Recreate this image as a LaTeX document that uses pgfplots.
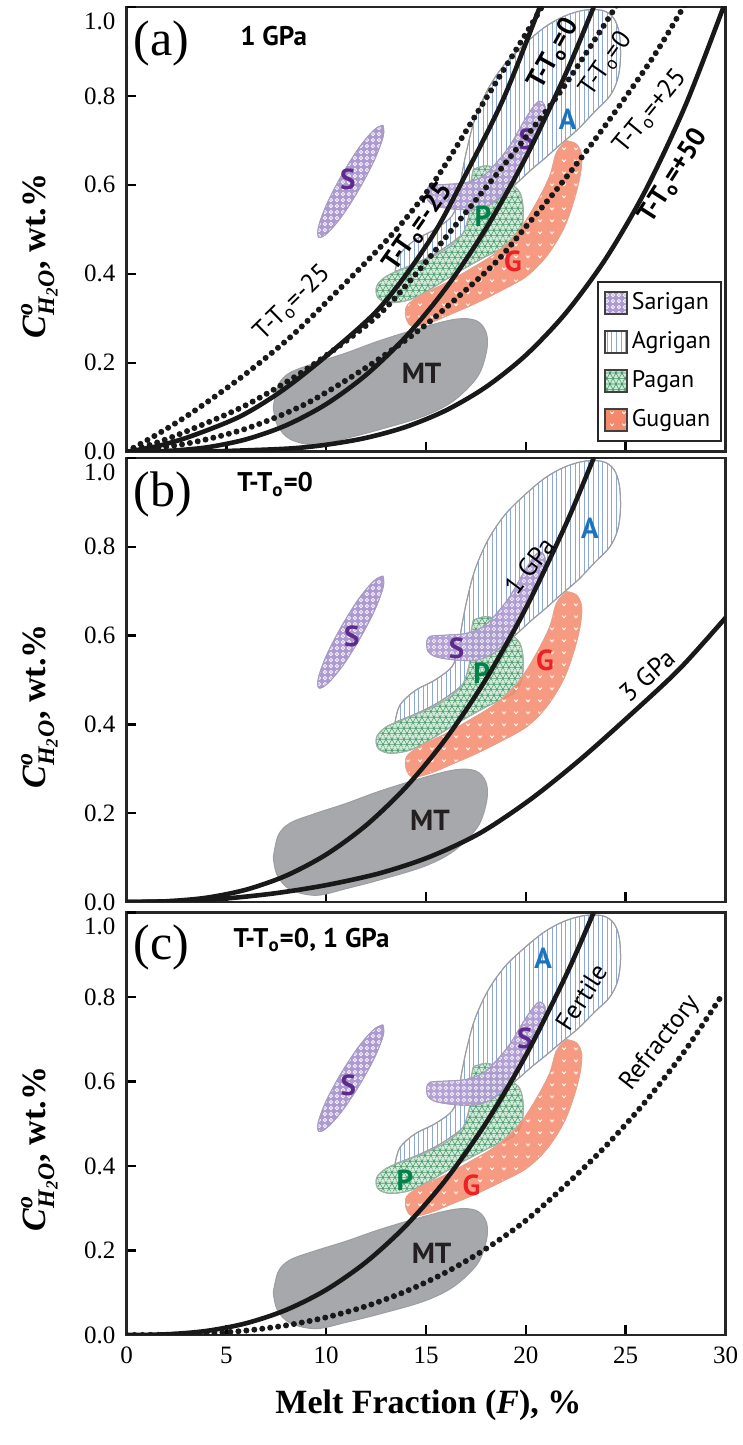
\documentclass[border=0pt]{standalone}
\usepackage{amsmath}
\usepackage{fontspec}
\setmainfont{Liberation Serif}
\newfontfamily\sansf{PT Sans}
\usepackage{pgfplots}
\pgfplotsset{compat=1.18}
\usepackage{pgfplotstable}
\usetikzlibrary{patterns,patterns.meta}

\definecolor{sarfill}{HTML}{AE9AD2}
\definecolor{sardraw}{HTML}{A79CC0}
\definecolor{agrline}{HTML}{8EA7D9}
\definecolor{agrdraw}{HTML}{9A9EA4}
\definecolor{pagfill}{HTML}{CFE9D7}
\definecolor{pagline}{HTML}{3E9463}
\definecolor{pagdraw}{HTML}{9DB3A5}
\definecolor{gugfill}{HTML}{F4896B}
\definecolor{gugdraw}{HTML}{E8A08A}
\definecolor{mtfill}{HTML}{A6A8AB}
\definecolor{mtdraw}{HTML}{9C9EA1}
\definecolor{Scol}{HTML}{5E2A8C}
\definecolor{Acol}{HTML}{1B75BC}
\definecolor{Pcol}{HTML}{00834A}
\definecolor{Gcol}{HTML}{EC2227}
\definecolor{MTcol}{HTML}{231F20}

\pgfdeclarepattern{name=circs, type=uncolored,
  bottom left={\pgfpoint{-1.6pt}{-1.6pt}}, top right={\pgfpoint{1.6pt}{1.6pt}},
  tile size={\pgfpoint{3.2pt}{3.2pt}},
  code={\pgfsetlinewidth{0.4pt}\pgfpathcircle{\pgfpointorigin}{0.9pt}\pgfusepath{stroke}}}
\pgfdeclarepattern{name=vees, type=uncolored,
  bottom left={\pgfpoint{-3pt}{-3pt}}, top right={\pgfpoint{3pt}{3pt}},
  tile size={\pgfpoint{6pt}{6pt}},
  code={\pgfsetlinewidth{0.45pt}\pgfpathmoveto{\pgfpoint{-0.9pt}{0.7pt}}\pgfpathlineto{\pgfpoint{0pt}{-0.4pt}}\pgfpathlineto{\pgfpoint{0.9pt}{0.7pt}}\pgfusepath{stroke}}}
\pgfdeclarepattern{name=tri, type=uncolored,
  bottom left={\pgfpoint{0pt}{0pt}}, top right={\pgfpoint{3.2pt}{5.543pt}},
  tile size={\pgfpoint{3.2pt}{5.543pt}},
  code={\pgfsetlinewidth{0.3pt}
    \pgfpathmoveto{\pgfpoint{0pt}{1.386pt}}\pgfpathlineto{\pgfpoint{3.2pt}{1.386pt}}
    \pgfpathmoveto{\pgfpoint{0pt}{4.157pt}}\pgfpathlineto{\pgfpoint{3.2pt}{4.157pt}}
    \pgfpathmoveto{\pgfpoint{0pt}{1.386pt}}\pgfpathlineto{\pgfpoint{2.4pt}{5.543pt}}
    \pgfpathmoveto{\pgfpoint{2.4pt}{0pt}}\pgfpathlineto{\pgfpoint{3.2pt}{1.386pt}}
    \pgfpathmoveto{\pgfpoint{3.2pt}{1.386pt}}\pgfpathlineto{\pgfpoint{0.8pt}{5.543pt}}
    \pgfpathmoveto{\pgfpoint{0.8pt}{0pt}}\pgfpathlineto{\pgfpoint{0pt}{1.386pt}}
    \pgfusepath{stroke}}}

% ---------- shapes (data regions) ----------
\pgfplotstableread{
x y
13.45 0.405
13.70 0.444
14.45 0.476
15.45 0.500
16.30 0.530
16.60 0.568
16.80 0.624
17.05 0.680
17.45 0.748
18.10 0.815
18.95 0.872
19.95 0.917
20.96 0.955
21.96 0.980
22.96 0.993
23.86 0.992
24.40 0.975
24.68 0.940
24.74 0.885
24.60 0.838
24.21 0.800
23.46 0.765
22.61 0.725
21.71 0.690
20.96 0.660
20.30 0.635
19.45 0.600
18.45 0.560
17.45 0.515
16.45 0.475
15.45 0.445
14.45 0.423
13.45 0.405
}\tabA
\pgfplotstableread{
x y
12.84 0.734
12.865 0.711
12.455 0.660
11.719 0.596
10.855 0.534
10.094 0.493
9.64 0.482
9.615 0.505
10.025 0.556
10.761 0.620
11.625 0.682
12.387 0.723
12.84 0.734
}\tabSa
\pgfplotstableread{
x y
15.03 0.583
15.20 0.598
16.03 0.601
17.03 0.605
17.87 0.620
18.54 0.650
19.20 0.688
19.87 0.740
20.37 0.775
20.70 0.788
20.96 0.775
20.87 0.735
20.37 0.688
19.70 0.635
19.04 0.590
18.37 0.560
17.54 0.545
16.53 0.545
15.53 0.552
15.11 0.564
15.03 0.583
}\tabSb
\pgfplotstableread{
x y
17.37 0.635
18.04 0.643
18.70 0.631
19.20 0.605
19.70 0.583
19.87 0.545
19.79 0.500
19.37 0.470
18.04 0.440
16.53 0.402
15.20 0.365
14.20 0.342
13.20 0.335
12.60 0.346
12.53 0.372
13.03 0.395
14.03 0.414
15.20 0.436
16.20 0.462
16.87 0.493
17.20 0.545
17.20 0.590
17.37 0.635
}\tabP
\pgfplotstableread{
x y
22.04 0.699
22.54 0.691
22.79 0.665
22.71 0.620
22.37 0.560
21.87 0.500
21.04 0.440
20.04 0.395
18.87 0.365
17.54 0.335
16.37 0.312
15.20 0.290
14.36 0.282
14.03 0.297
14.03 0.327
14.70 0.350
16.03 0.380
17.20 0.410
18.54 0.448
19.70 0.500
20.54 0.560
21.20 0.620
21.54 0.673
22.04 0.699
}\tabG
\pgfplotstableread{
x y
7.35 0.100
7.60 0.150
8.20 0.178
9.50 0.200
11.00 0.222
12.70 0.250
14.86 0.280
16.50 0.298
17.50 0.295
18.00 0.270
18.05 0.230
17.60 0.170
16.40 0.115
14.90 0.080
12.70 0.050
11.00 0.030
9.50 0.015
8.20 0.028
7.55 0.060
7.35 0.100
}\tabMT

% ---------- model curves ----------
\pgfplotstableread{
x y
0 0
1.5 0.012
3.18 0.034
5.68 0.079
7.85 0.139
10.19 0.222
12.44 0.312
14 0.398
15.53 0.500
16.87 0.613
18.87 0.793
20.7 1.0
21 1.04
}\solidA
\pgfplotstableread{
x y
0 0
1.5 0.038
3.18 0.085
5.68 0.165
8.19 0.257
10.36 0.352
12.44 0.447
14 0.525
15.53 0.615
17.7 0.772
19.87 0.93
20.8 1.0
21.1 1.03
}\dotA
\pgfplotstableread{
x y
0 0
1.5 0.02
3.18 0.049
6 0.105
9 0.185
12.44 0.30
14.5 0.40
16.4 0.505
19 0.65
21.5 0.795
23 0.895
24.5 1.0
24.8 1.02
}\dotB
\pgfplotstableread{
x y
0 0
3 0.018
6 0.052
9 0.108
12.2 0.195
14.7 0.275
16.53 0.345
18.54 0.428
20.04 0.508
21.46 0.585
23.1 0.68
24.8 0.785
26.46 0.893
27.9 1.0
28.2 1.02
}\dotC
\pgfplotstableread{
x y
0 0
4 0.0005
8 0.0067
10 0.0156
12 0.0311
14 0.0559
16 0.0929
18 0.1454
20 0.217
22 0.3117
24 0.4338
26 0.588
28 0.7794
29.9 1.0
30.1 1.03
}\solidC
\pgfplotstableread{
x y
0 0
2 0.0016
4 0.0096
6 0.0279
8 0.0594
10 0.1069
12 0.1727
14 0.259
16 0.368
18 0.5015
20 0.6617
22 0.850
23.4 1.0
23.8 1.045
}\fertile
\pgfplotstableread{
x y
0 0
2.5 0.002
5 0.008
7.5 0.02
10 0.038
12.7 0.065
15.2 0.102
17.7 0.155
20.2 0.23
22.7 0.32
25.2 0.42
27.7 0.525
30 0.64
}\gpaiii
\pgfplotstableread{
x y
0 0
2 0.0005
4 0.0035
6 0.0105
8 0.0228
10 0.0417
12 0.0682
14 0.1035
16 0.1484
18 0.204
20 0.271
22 0.355
24 0.447
26 0.553
28 0.675
29.9 0.81
}\refr

\tikzset{
 sarS/.style={draw=sardraw, fill=sarfill, postaction={pattern=circs, pattern color=white}},
 agrS/.style={draw=agrdraw, fill=white, postaction={pattern={Lines[angle=90,distance=2.3pt,line width=0.4pt]}, pattern color=agrline}},
 pagS/.style={draw=pagdraw, fill=pagfill, postaction={pattern=tri, pattern color=pagline}},
 gugS/.style={draw=gugdraw, fill=gugfill, postaction={pattern=vees, pattern color=white}},
 mtS/.style={draw=mtdraw, fill=mtfill},
 blob/.style={smooth, tension=0.55, line width=0.5pt},
 solidc/.style={line width=2.3pt, color=black!90, smooth, line cap=round},
 dotc/.style={line width=3pt, color=black!90, smooth, line cap=round, dash pattern=on 0pt off 4pt},
 lab/.style={font=\sansf\fontsize{13}{15}\selectfont, inner sep=0pt},
 labb/.style={font=\sansf\bfseries\fontsize{13.5}{15}\selectfont, inner sep=0pt},
 shl/.style={font=\sansf\bfseries\fontsize{14.5}{16}\selectfont, inner sep=0pt},
 ttl/.style={font=\sansf\bfseries\fontsize{13.5}{15}\selectfont, inner sep=0pt, anchor=west},
 plab/.style={font=\fontsize{25}{28}\selectfont, inner sep=0pt, anchor=west},
}

\pgfplotsset{
  panel/.style={
    scale only axis, width=299.5pt, anchor=south west,
    xmin=0, xmax=30, ymin=0, ymax=1,
    axis line style={line width=1.2pt, black!85},
    xtick={0,5,10,15,20,25,30}, ytick={0,0.2,0.4,0.6,0.8},
    yticklabels={0.0,0.2,0.4,0.6,0.8},
    extra y ticks={1}, extra y tick labels={1.0},
    extra y tick style={yticklabel style={yshift=-7pt}},
    tick align=inside, xtick pos=bottom, ytick pos=left,
    major tick length=5pt, tick style={line width=1.2pt, black},
    ticklabel style={font=\fontsize{12.5}{14}\selectfont},
    /pgf/number format/assume math mode=true,
    yticklabel style={xshift=-2pt},
    xticklabel style={yshift=-2.5pt},
    ylabel={\bfseries\itshape C\/$^{\text{\bfseries\itshape o}}_{\text{\bfseries\itshape H}_{\text{\bfseries 2}}\text{\bfseries\itshape O}}$\upshape, wt.\%},
    ylabel style={at={(axis description cs:-0.136,0.44)}, anchor=base, font=\fontsize{17}{20}\selectfont},
    clip=true,
  }
}

\newcommand\shapes{%
  \addplot[agrS, blob, forget plot] table {\tabA};
  \addplot[mtS, blob, forget plot] table {\tabMT};
  \addplot[pagS, blob, forget plot, fill opacity=0.9] table {\tabP};
  \addplot[sarS, blob, forget plot] table {\tabSa};
  \addplot[sarS, blob, forget plot, fill opacity=0.92] table {\tabSb};
  \addplot[gugS, blob, forget plot, fill opacity=0.85] table {\tabG};
}

\begin{document}
\begin{tikzpicture}
\path[use as bounding box] (0,0) rectangle (371.5pt,722.5pt);

% ---------------- (a) ----------------
\begin{axis}[panel, at={(63.25pt,496.65pt)}, height=222.35pt, xticklabels={},
  legend style={at={(0.994,0.022)}, anchor=south east, draw=black!85, line width=1pt,
    font=\sansf\fontsize{12}{14}\selectfont, inner xsep=3pt, inner ysep=3.5pt, row sep=5.5pt},
  legend cell align=left,
  legend image code/.code={\draw[#1] (0pt,-5.5pt) rectangle (11pt,5.5pt);}]
\addlegendimage{sarS, line width=0.8pt, draw=black!75}
\addlegendentry{Sarigan}
\addlegendimage{agrS, line width=0.8pt, draw=black!75}
\addlegendentry{Agrigan}
\addlegendimage{pagS, line width=0.8pt, draw=black!75}
\addlegendentry{Pagan}
\addlegendimage{gugS, line width=0.8pt, draw=black!75}
\addlegendentry{Guguan}
\shapes
\node[shl, text=Scol] at (axis cs:11.09,0.612) {S};
\node[shl, text=Scol] at (axis cs:20.04,0.703) {S};
\node[shl, text=Acol] at (axis cs:22.1,0.748) {A};
\node[shl, text=Pcol] at (axis cs:17.85,0.53) {P};
\node[shl, text=Gcol] at (axis cs:19.35,0.428) {G};
\node[shl, text=MTcol] at (axis cs:14.78,0.177) {MT};
\addplot[dotc, forget plot] table {\dotA};
\addplot[dotc, forget plot] table {\dotB};
\addplot[dotc, forget plot] table {\dotC};
\addplot[solidc, forget plot] table {\solidA};
\addplot[solidc, forget plot] table {\fertile};
\addplot[solidc, forget plot] table {\solidC};
\node[lab, rotate=44.4] at (axis cs:8.3,0.335) {T-T\textsubscript{o}=-25};
\node[labb, rotate=55] at (axis cs:14.62,0.506) {T-T\textsubscript{o}=-25};
\node[labb, rotate=61] at (axis cs:21.4,0.894) {T-T\textsubscript{o}=0};
\node[lab, rotate=55] at (axis cs:24.0,0.872) {T-T\textsubscript{o}=0};
\node[lab, rotate=50.7] at (axis cs:26.25,0.765) {T-T\textsubscript{o}=+25};
\node[labb, rotate=57.4] at (axis cs:27.4,0.62) {T-T\textsubscript{o}=+50};
\node[plab] at (axis cs:0.33,0.918) {(a)};
\node[ttl] at (axis cs:5.68,0.935) {1 GPa};
\end{axis}

% ---------------- (b) ----------------
\begin{axis}[panel, at={(63.25pt,271.5pt)}, height=222pt, xticklabels={}]
\shapes
\node[shl, text=Scol] at (axis cs:11.28,0.598) {S};
\node[shl, text=Scol] at (axis cs:16.53,0.571) {S};
\node[shl, text=Pcol] at (axis cs:17.79,0.515) {P};
\node[shl, text=Gcol] at (axis cs:20.96,0.545) {G};
\node[shl, text=Acol] at (axis cs:23.21,0.842) {A};
\node[shl, text=MTcol] at (axis cs:15.2,0.185) {MT};
\addplot[solidc, forget plot] table {\fertile};
\addplot[solidc, forget plot] table {\gpaiii};
\node[lab, rotate=53] at (axis cs:20.2,0.757) {1 GPa};
\node[lab, rotate=41.3] at (axis cs:26.1,0.51) {3 GPa};
\node[plab] at (axis cs:0.33,0.918) {(b)};
\node[ttl] at (axis cs:5.53,0.94) {T-T\textsubscript{o}=0};
\end{axis}

% ---------------- (c) ----------------
\begin{axis}[panel, at={(63.25pt,55pt)}, height=211.25pt,
  xlabel={\bfseries Melt Fraction (\textit{F}), \%},
  xlabel style={at={(axis description cs:0.504,-0.166)}, anchor=center, font=\fontsize{17}{20}\selectfont}]
\shapes
\node[shl, text=Scol] at (axis cs:11.11,0.592) {S};
\node[shl, text=Scol] at (axis cs:19.95,0.702) {S};
\node[shl, text=Acol] at (axis cs:20.87,0.892) {A};
\node[shl, text=Pcol] at (axis cs:13.95,0.367) {P};
\node[shl, text=Gcol] at (axis cs:17.28,0.355) {G};
\node[shl, text=MTcol] at (axis cs:15.28,0.193) {MT};
\addplot[solidc, forget plot] table {\fertile};
\addplot[dotc, forget plot] table {\refr};
\node[lab, rotate=57] at (axis cs:22.8,0.80) {Fertile};
\node[lab, rotate=52] at (axis cs:26.75,0.69) {Refractory};
\node[plab] at (axis cs:0.33,0.918) {(c)};
\node[ttl] at (axis cs:5.34,0.935) {T-T\textsubscript{o}=0, 1 GPa};
\end{axis}
\end{tikzpicture}
\end{document}
